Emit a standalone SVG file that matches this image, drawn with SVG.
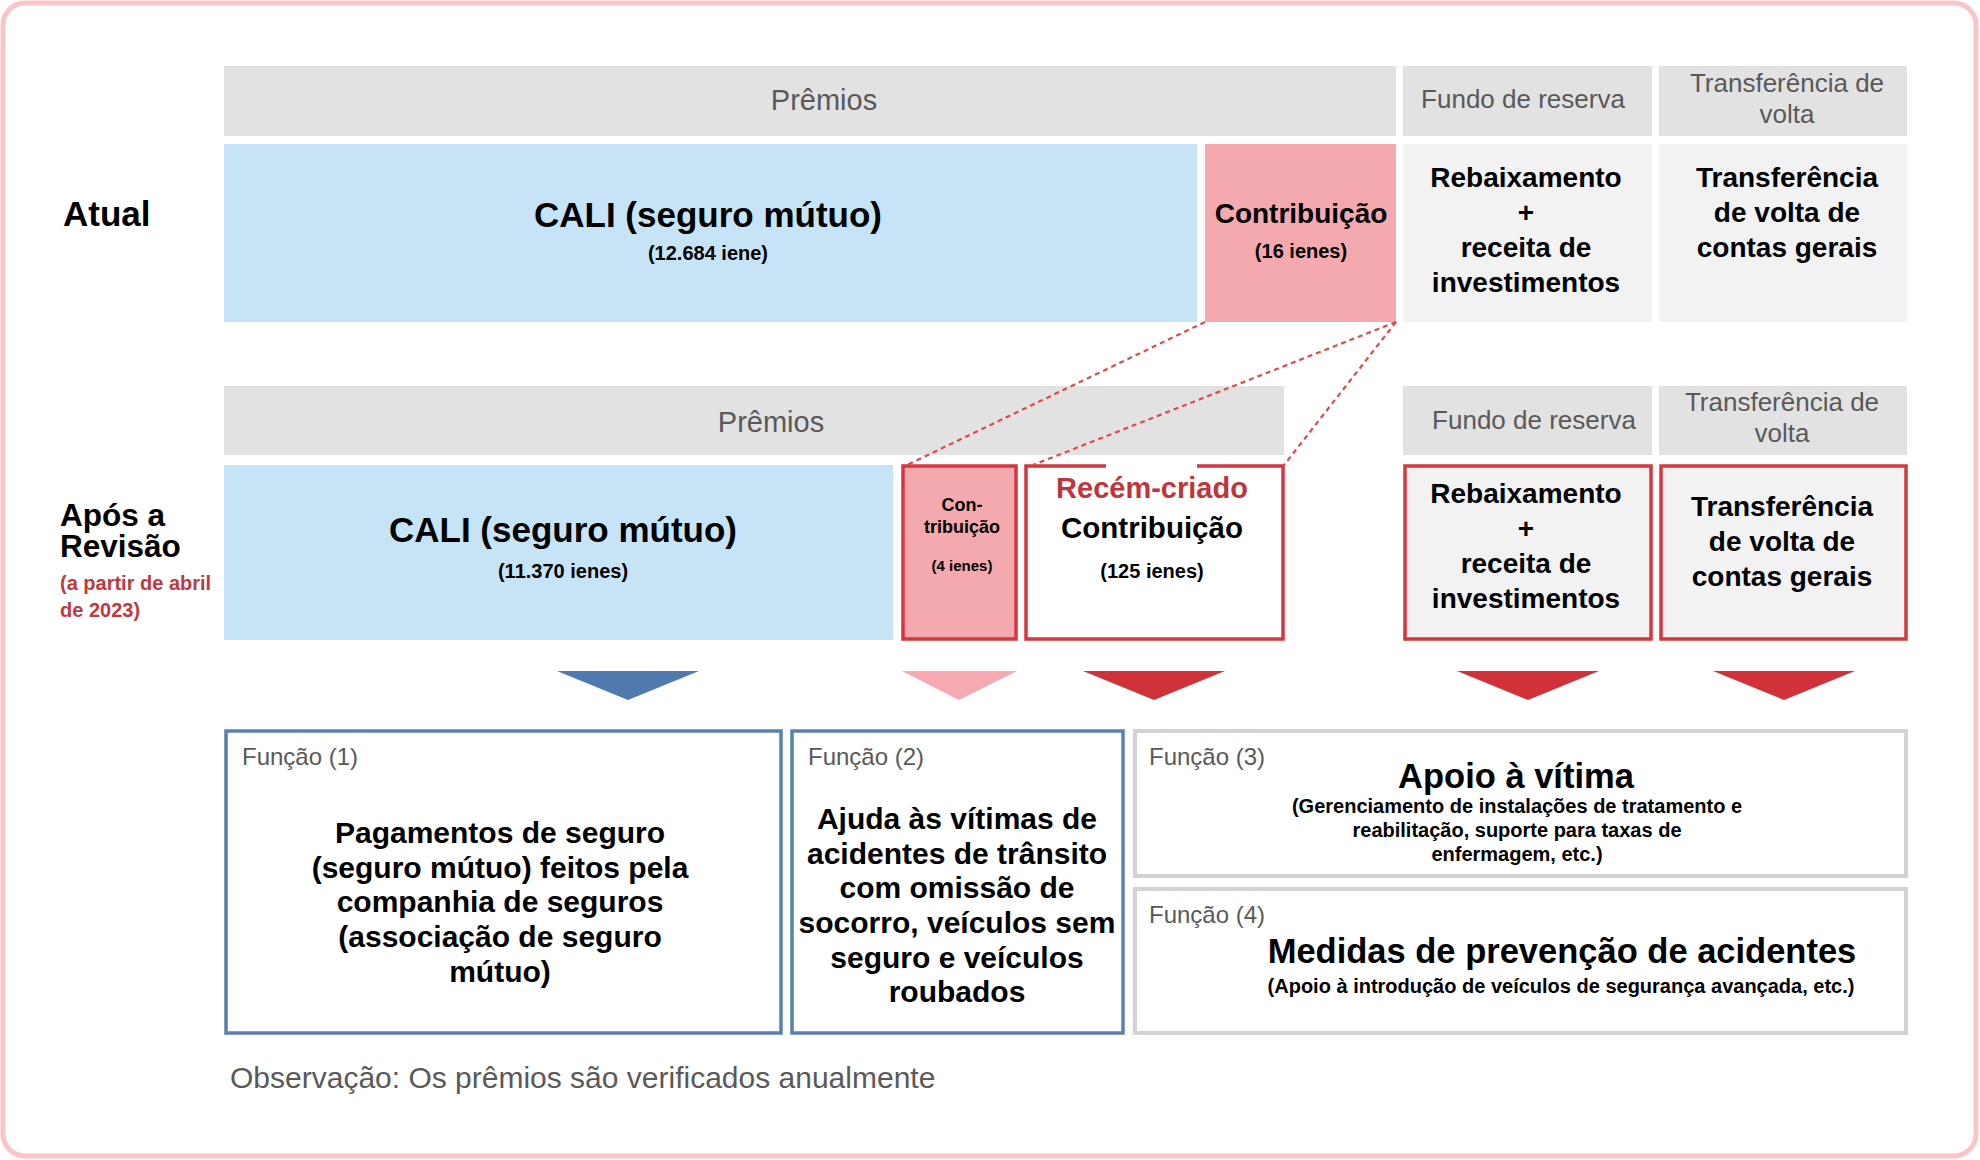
<svg xmlns="http://www.w3.org/2000/svg" width="1980" height="1160" viewBox="0 0 1980 1160">
<style>
text{font-family:"Liberation Sans",Arial,Helvetica,sans-serif;}
.hdr{fill:#e2e2e2;}
.ht{font-size:26px;fill:#595959;text-anchor:middle;}
.hp{font-size:29px;fill:#595959;text-anchor:middle;}
.blue{fill:#c6e4f6;}
.pink{fill:#f4a9ae;}
.gbox{fill:#f2f2f2;}
.rs{stroke:#d4373f;stroke-width:3.5;}
.b{font-weight:bold;fill:#000;text-anchor:middle;}
.f28{font-size:28px;}
.f30{font-size:30px;}
.f20{font-size:20px;}
.lbl{font-size:24px;fill:#595959;}
.dash{fill:none;stroke:#e0474f;stroke-width:2.2;stroke-dasharray:5 4;}
.fb{fill:#fff;stroke:#5a7fb0;stroke-width:3.5;}
.fg{fill:#fff;stroke:#d3d3d3;stroke-width:4;}
</style>
<rect x="3" y="3" width="1973" height="1153" rx="22" fill="#fff" stroke="#fac5c9" stroke-width="5"/>

<g id="label-atual"><text x="63" y="226" font-size="35" font-weight="bold" fill="#000">Atual</text></g>
<g id="label-apos">
<text x="60" y="526" font-size="31.5" font-weight="bold" fill="#000">Após a</text>
<text x="60" y="557" font-size="31.5" font-weight="bold" fill="#000">Revisão</text>
<text x="60" y="590" font-size="20" font-weight="bold" fill="#be3a40">(a partir de abril</text>
<text x="60" y="617" font-size="20" font-weight="bold" fill="#be3a40">de 2023)</text>
</g>

<!-- Row 1 -->
<g id="hdr1-premios"><rect class="hdr" x="224" y="66" width="1172" height="70"/><text class="hp" x="824" y="110">Prêmios</text></g>
<g id="hdr1-fundo"><rect class="hdr" x="1403" y="66" width="249" height="70"/><text class="ht" x="1523" y="108">Fundo de reserva</text></g>
<g id="hdr1-transf"><rect class="hdr" x="1659" y="66" width="248" height="70"/><text class="ht" x="1787" y="92">Transferência de</text><text class="ht" x="1787" y="123">volta</text></g>

<g id="cali1"><rect class="blue" x="224" y="144" width="973" height="178"/>
<text class="b" x="708" y="227" font-size="35">CALI (seguro mútuo)</text>
<text class="b f20" x="708" y="260">(12.684 iene)</text></g>
<g id="contrib1"><rect class="pink" x="1205" y="144" width="191" height="178"/>
<text class="b f28" x="1301" y="223">Contribuição</text>
<text class="b f20" x="1301" y="258">(16 ienes)</text></g>
<g id="fundo1"><rect class="gbox" x="1403" y="144" width="249" height="178"/>
<text class="b f28" x="1526" y="187">Rebaixamento</text>
<text class="b f28" x="1526" y="222">+</text>
<text class="b f28" x="1526" y="257">receita de</text>
<text class="b f28" x="1526" y="292">investimentos</text></g>
<g id="transf1"><rect class="gbox" x="1659" y="144" width="248" height="178"/>
<text class="b f28" x="1787" y="187">Transferência</text>
<text class="b f28" x="1787" y="222">de volta de</text>
<text class="b f28" x="1787" y="257">contas gerais</text></g>

<!-- Row 2 -->
<g id="hdr2-premios"><rect class="hdr" x="224" y="386" width="1060" height="69"/><text class="hp" x="771" y="432">Prêmios</text></g>
<g id="hdr2-fundo"><rect class="hdr" x="1403" y="386" width="249" height="69"/><text class="ht" x="1534" y="429">Fundo de reserva</text></g>
<g id="hdr2-transf"><rect class="hdr" x="1659" y="386" width="248" height="69"/><text class="ht" x="1782" y="411">Transferência de</text><text class="ht" x="1782" y="442">volta</text></g>

<g id="cali2"><rect class="blue" x="224" y="465" width="669" height="175"/>
<text class="b" x="563" y="542" font-size="35">CALI (seguro mútuo)</text>
<text class="b f20" x="563" y="578">(11.370 ienes)</text></g>
<g id="contrib2"><rect class="pink rs" x="903" y="466" width="113" height="173"/>
<text class="b" x="962" y="511" font-size="18">Con-</text>
<text class="b" x="962" y="533" font-size="18">tribuição</text>
<text class="b" x="962" y="571" font-size="15">(4 ienes)</text></g>
<g id="new-contrib"><rect class="rs" fill="#fff" x="1026" y="466" width="257" height="173"/>
<line x1="1106" y1="466" x2="1197" y2="466" stroke="#fff" stroke-width="5"/>
<text class="b" x="1152" y="498" font-size="29" style="fill:#c0353d">Recém-criado</text>
<text class="b" x="1152" y="538" font-size="29.5">Contribuição</text>
<text class="b f20" x="1152" y="578">(125 ienes)</text></g>
<g id="fundo2"><rect class="gbox rs" x="1405" y="466" width="246" height="173"/>
<text class="b f28" x="1526" y="503">Rebaixamento</text>
<text class="b f28" x="1526" y="538">+</text>
<text class="b f28" x="1526" y="573">receita de</text>
<text class="b f28" x="1526" y="608">investimentos</text></g>
<g id="transf2"><rect class="gbox rs" x="1661" y="466" width="245" height="173"/>
<text class="b f28" x="1782" y="516">Transferência</text>
<text class="b f28" x="1782" y="551">de volta de</text>
<text class="b f28" x="1782" y="586">contas gerais</text></g>

<!-- Connectors -->
<g id="connectors">
<line class="dash" x1="1205" y1="322" x2="907" y2="465"/>
<line class="dash" x1="1396" y1="322" x2="1033" y2="465"/>
<line class="dash" x1="1396" y1="322" x2="1284" y2="465"/>
<polygon points="557,671 699,671 628,700" fill="#5079ad"/>
<polygon points="902,671 1017,671 959,700" fill="#f4aab0"/>
<polygon points="1083,671 1225,671 1154,700" fill="#d0323a"/>
<polygon points="1457,671 1599,671 1528,700" fill="#d0323a"/>
<polygon points="1713,671 1855,671 1784,700" fill="#d0323a"/>
</g>

<!-- Functions -->
<g id="func1"><rect class="fb" x="226" y="731" width="555" height="302"/>
<text class="lbl" x="242" y="765">Função (1)</text>
<text class="b f30" x="500" y="843">Pagamentos de seguro</text>
<text class="b f30" x="500" y="878">(seguro mútuo) feitos pela</text>
<text class="b f30" x="500" y="912">companhia de seguros</text>
<text class="b f30" x="500" y="947">(associação de seguro</text>
<text class="b f30" x="500" y="982">mútuo)</text></g>
<g id="func2"><rect class="fb" x="792" y="731" width="331" height="302"/>
<text class="lbl" x="808" y="765">Função (2)</text>
<text class="b f30" x="957" y="829">Ajuda às vítimas de</text>
<text class="b f30" x="957" y="864">acidentes de trânsito</text>
<text class="b f30" x="957" y="898">com omissão de</text>
<text class="b f30" x="957" y="933">socorro, veículos sem</text>
<text class="b f30" x="957" y="968">seguro e veículos</text>
<text class="b f30" x="957" y="1002">roubados</text></g>
<g id="func3"><rect class="fg" x="1135" y="731" width="771" height="145"/>
<text class="lbl" x="1149" y="765">Função (3)</text>
<text class="b" x="1516" y="788" font-size="34.5">Apoio à vítima</text>
<text class="b f20" x="1517" y="813">(Gerenciamento de instalações de tratamento e</text>
<text class="b f20" x="1517" y="837">reabilitação, suporte para taxas de</text>
<text class="b f20" x="1517" y="861">enfermagem, etc.)</text></g>
<g id="func4"><rect class="fg" x="1135" y="889" width="771" height="144"/>
<text class="lbl" x="1149" y="923">Função (4)</text>
<text class="b" x="1562" y="963" font-size="34.5">Medidas de prevenção de acidentes</text>
<text class="b f20" x="1561" y="993">(Apoio à introdução de veículos de segurança avançada, etc.)</text></g>

<g id="note"><text x="230" y="1088" font-size="30" fill="#595959">Observação: Os prêmios são verificados anualmente</text></g>
</svg>
